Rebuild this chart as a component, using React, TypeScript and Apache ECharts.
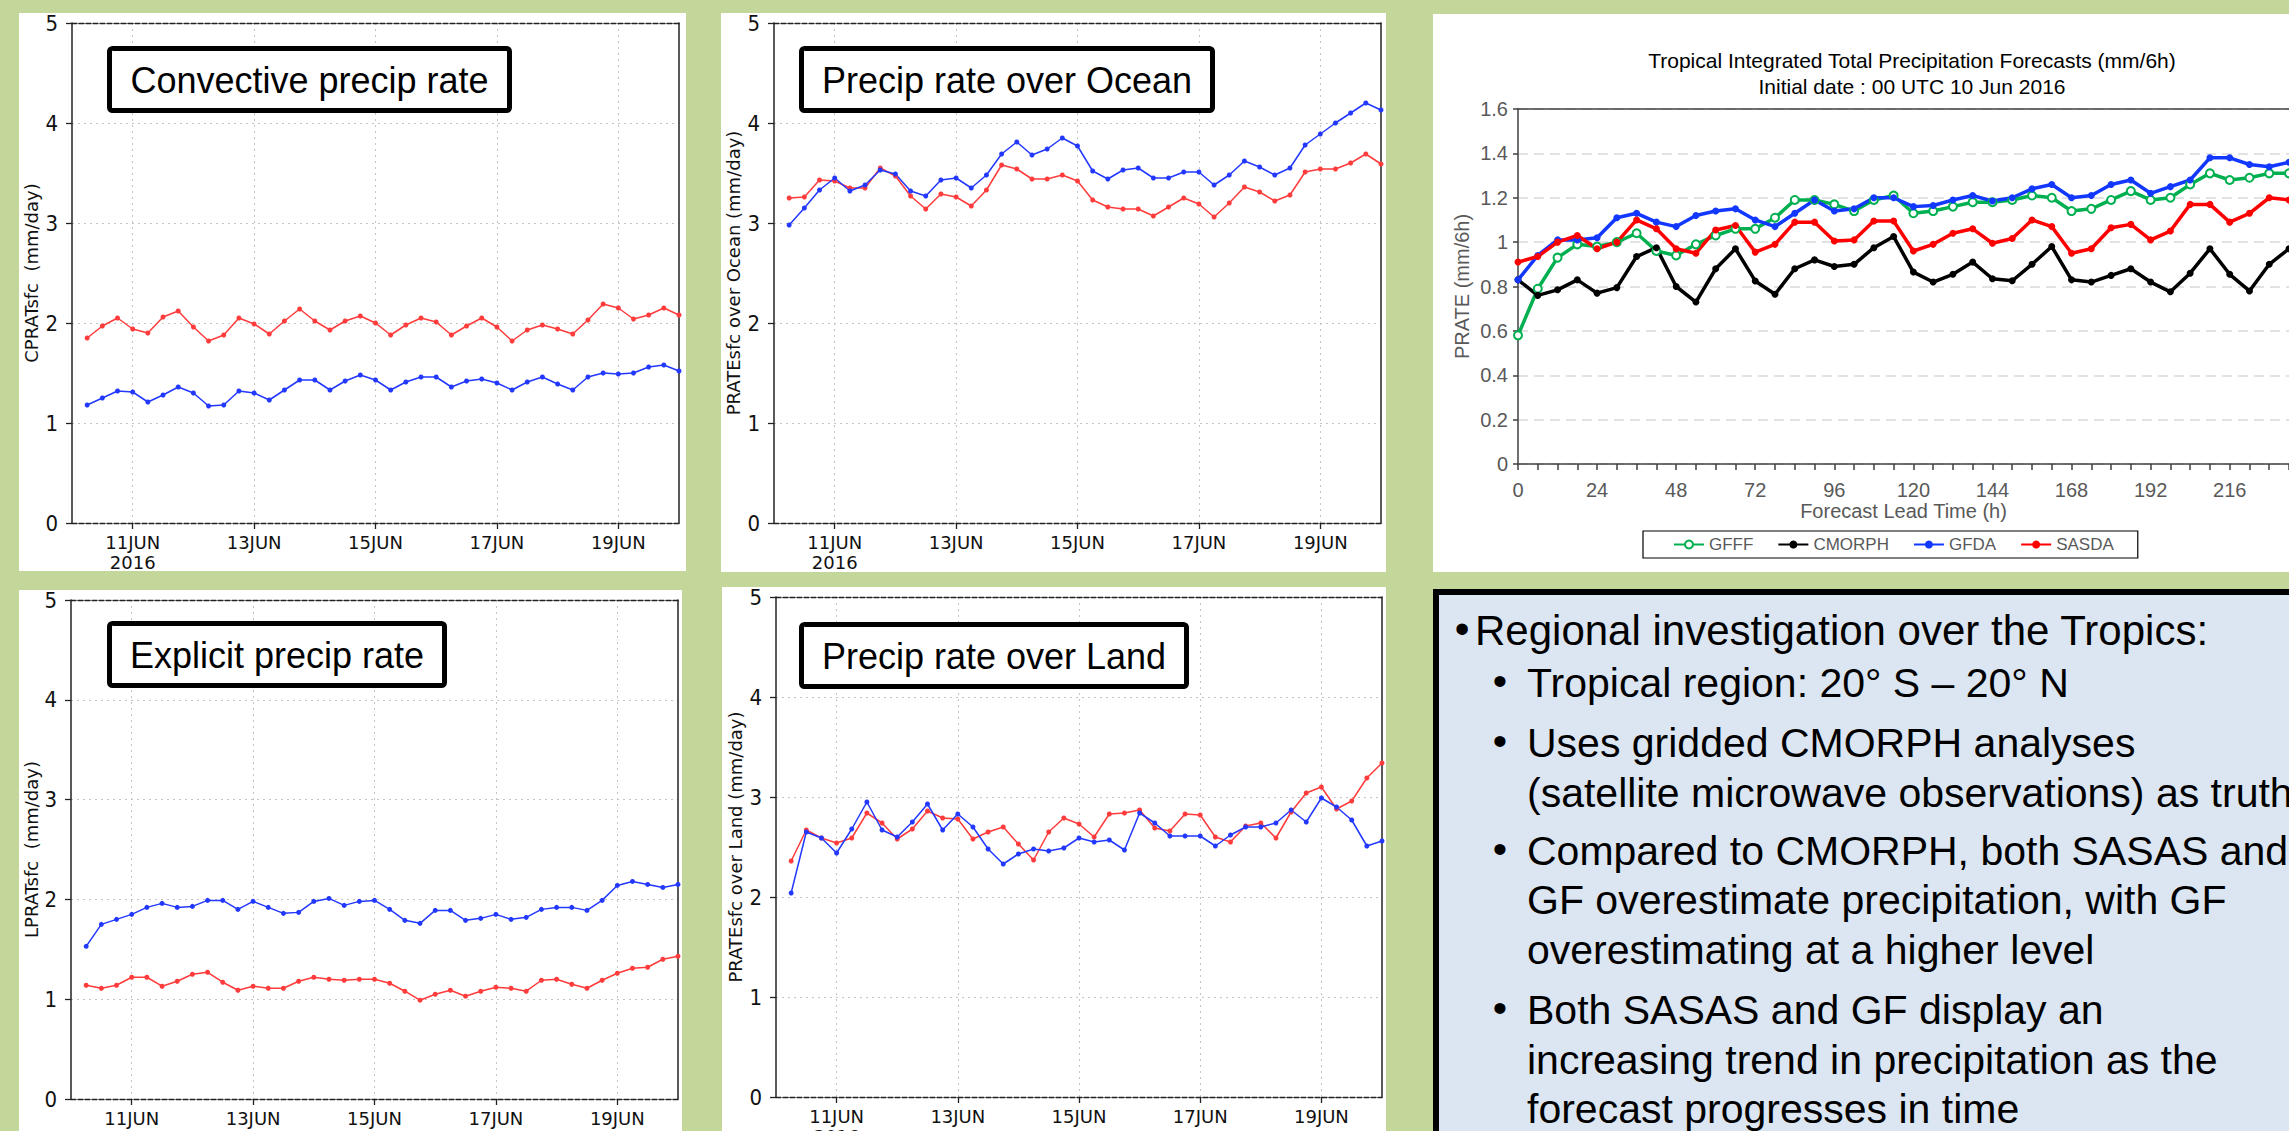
import React, { useEffect, useRef } from "react";
import * as echarts from "echarts";

const W = 2289;
const H = 1131;

// ---------- GrADS panels (6-hourly, 10JUN2016 00Z .. 20JUN2016 00Z) ----------
const HOUR_CATS = ["0","6","12","18","24","30","36","42","48","54","60","66","72","78","84","90","96","102","108","114","120","126","132","138","144","150","156","162","168","174","180","186","192","198","204","210","216","222","228","234","240"];
const VALID_HOURS = [6,12,18,24,30,36,42,48,54,60,66,72,78,84,90,96,102,108,114,120,126,132,138,144,150,156,162,168,174,180,186,192,198,204,210,216,222,228,234,240];
const DATE_TICK_HOURS = ["24", "72", "120", "168", "216"];
const DATE_TICK_LABELS = ["11JUN\n2016", "13JUN", "15JUN", "17JUN", "19JUN"];

const CONV_RED = [1.85,1.97,2.05,1.94,1.90,2.06,2.12,1.96,1.82,1.88,2.05,1.99,1.89,2.02,2.14,2.02,1.93,2.02,2.07,2.00,1.88,1.98,2.05,2.01,1.88,1.97,2.05,1.96,1.82,1.93,1.98,1.94,1.89,2.03,2.19,2.15,2.04,2.08,2.15,2.08];
const CONV_BLUE = [1.18,1.25,1.32,1.31,1.21,1.28,1.36,1.30,1.17,1.18,1.32,1.30,1.23,1.33,1.43,1.43,1.33,1.42,1.48,1.43,1.33,1.41,1.46,1.46,1.36,1.42,1.44,1.40,1.33,1.41,1.46,1.39,1.33,1.46,1.50,1.49,1.50,1.56,1.58,1.52];
const OCEAN_BLUE = [2.98,3.15,3.33,3.45,3.32,3.38,3.53,3.49,3.32,3.27,3.43,3.45,3.35,3.48,3.69,3.81,3.68,3.74,3.85,3.77,3.52,3.44,3.53,3.55,3.45,3.45,3.51,3.51,3.38,3.48,3.62,3.56,3.48,3.55,3.78,3.89,4.00,4.10,4.20,4.13];
const OCEAN_RED = [3.25,3.26,3.43,3.42,3.35,3.35,3.55,3.47,3.27,3.14,3.29,3.26,3.17,3.33,3.58,3.54,3.44,3.44,3.48,3.42,3.23,3.16,3.14,3.14,3.07,3.16,3.25,3.19,3.06,3.20,3.36,3.31,3.22,3.28,3.51,3.54,3.54,3.60,3.69,3.59];
const EXPL_BLUE = [1.53,1.75,1.80,1.85,1.92,1.96,1.92,1.93,1.99,1.99,1.90,1.98,1.92,1.86,1.87,1.98,2.01,1.94,1.98,1.99,1.90,1.79,1.76,1.89,1.89,1.79,1.81,1.85,1.80,1.82,1.90,1.92,1.92,1.89,1.99,2.14,2.18,2.15,2.12,2.15];
const EXPL_RED = [1.14,1.11,1.14,1.22,1.22,1.13,1.18,1.25,1.27,1.17,1.09,1.13,1.11,1.11,1.18,1.22,1.20,1.19,1.20,1.20,1.16,1.08,0.99,1.05,1.09,1.03,1.08,1.12,1.11,1.08,1.19,1.20,1.15,1.11,1.19,1.26,1.31,1.32,1.40,1.43];
const LAND_BLUE = [2.04,2.65,2.59,2.44,2.68,2.95,2.67,2.60,2.75,2.93,2.67,2.83,2.70,2.48,2.33,2.43,2.48,2.46,2.49,2.59,2.55,2.57,2.47,2.84,2.74,2.61,2.61,2.61,2.51,2.62,2.70,2.70,2.74,2.87,2.75,2.99,2.90,2.77,2.51,2.56];
const LAND_RED = [2.36,2.67,2.59,2.54,2.59,2.84,2.74,2.58,2.68,2.86,2.79,2.78,2.58,2.65,2.70,2.53,2.37,2.65,2.79,2.73,2.60,2.83,2.84,2.87,2.69,2.66,2.83,2.82,2.60,2.55,2.71,2.74,2.59,2.85,3.04,3.10,2.88,2.96,3.19,3.34];

// ---------- Tropical integrated total precipitation (mm/6h) ----------
const LEAD_HOURS = [0,6,12,18,24,30,36,42,48,54,60,66,72,78,84,90,96,102,108,114,120,126,132,138,144,150,156,162,168,174,180,186,192,198,204,210,216,222,228,234];
const GFFF = [0.58,0.79,0.93,0.99,0.98,1.00,1.04,0.96,0.94,0.99,1.03,1.06,1.06,1.11,1.19,1.19,1.17,1.14,1.19,1.21,1.13,1.14,1.16,1.18,1.18,1.19,1.21,1.20,1.14,1.15,1.19,1.23,1.19,1.20,1.26,1.31,1.28,1.29,1.31,1.31];
const CMORPH = [0.83,0.76,0.785,0.83,0.77,0.795,0.935,0.975,0.80,0.73,0.88,0.97,0.825,0.765,0.88,0.92,0.89,0.90,0.975,1.025,0.865,0.82,0.855,0.91,0.835,0.826,0.90,0.98,0.83,0.82,0.85,0.88,0.82,0.776,0.86,0.97,0.855,0.78,0.90,0.97];
const GFDA = [0.83,0.94,1.01,1.01,1.02,1.11,1.13,1.09,1.07,1.12,1.14,1.15,1.10,1.07,1.13,1.19,1.14,1.15,1.20,1.20,1.16,1.165,1.19,1.21,1.185,1.20,1.24,1.26,1.20,1.21,1.26,1.28,1.22,1.25,1.28,1.38,1.38,1.35,1.34,1.36];
const SASDA = [0.91,0.935,1.00,1.03,0.97,1.00,1.10,1.06,0.97,0.95,1.055,1.075,0.955,0.99,1.09,1.09,1.005,1.01,1.095,1.095,0.96,0.99,1.04,1.06,0.995,1.016,1.10,1.07,0.95,0.97,1.065,1.08,1.01,1.05,1.17,1.17,1.09,1.13,1.20,1.19];
const LEGEND_NAMES = ["GFFF", "CMORPH", "GFDA", "SASDA"];

const ARIAL = '"Liberation Sans", Arial, sans-serif';
const GRADS = '"DejaVu Sans", sans-serif';
const GRADS_NARROW = '"DejaVu Sans Condensed", "DejaVu Sans", sans-serif';
const RED = "#FF3B3B";
const BLUE = "#2238FF";

const isDateTick = (index: number) => DATE_TICK_HOURS.includes(HOUR_CATS[index]);
const dateLabel = (v: string) => {
  const k = DATE_TICK_HOURS.indexOf(String(v));
  return k >= 0 ? DATE_TICK_LABELS[k] : "";
};

function gradsXAxes(gridIndex: number) {
  const dashed = { color: "#222", width: 1.3, type: [5, 2] as any };
  return [
    {
      type: "category", gridIndex, data: HOUR_CATS, boundaryGap: false, position: "bottom",
      axisLine: { show: true, onZero: false, lineStyle: dashed },
      axisTick: { show: true, length: 6, interval: isDateTick, lineStyle: { color: "#222", width: 1.3 } },
      axisLabel: { show: true, interval: isDateTick, formatter: dateLabel, color: "#111", fontFamily: GRADS, fontSize: 18, lineHeight: 20, margin: 9 },
      splitLine: { show: true, interval: isDateTick, lineStyle: { color: "#c4c4c4", width: 1, type: [2, 4] } },
    },
    {
      type: "category", gridIndex, data: HOUR_CATS, boundaryGap: false, position: "top",
      axisLine: { show: true, onZero: false, lineStyle: dashed },
      axisTick: { show: false }, axisLabel: { show: false }, splitLine: { show: false },
    },
  ];
}

function gradsYAxes(gridIndex: number, name: string, nameGap: number) {
  return [
    {
      type: "value", gridIndex, min: 0, max: 5, interval: 1, position: "left",
      name, nameLocation: "middle", nameGap,
      nameTextStyle: { fontFamily: GRADS, fontSize: 18, color: "#111" },
      axisLine: { show: true, onZero: false, lineStyle: { color: "#222", width: 1.5 } },
      axisTick: { show: true, length: 6, lineStyle: { color: "#222", width: 1.3 } },
      axisLabel: { fontFamily: GRADS_NARROW, fontSize: 22, color: "#111", margin: 14 },
      splitLine: { show: true, lineStyle: { color: "#c4c4c4", width: 1, type: [2, 4] } },
    },
    {
      type: "value", gridIndex, min: 0, max: 5, interval: 1, position: "right",
      axisLine: { show: true, onZero: false, lineStyle: { color: "#222", width: 1.5 } },
      axisTick: { show: false }, axisLabel: { show: false }, splitLine: { show: false },
    },
  ];
}

function gradsSeries(name: string, axisIdx: number, vals: number[], color: string) {
  return {
    type: "line", name, xAxisIndex: axisIdx, yAxisIndex: axisIdx,
    data: VALID_HOURS.map((h, i) => [HOUR_CATS.indexOf(String(h)), vals[i]]),
    symbol: "circle", symbolSize: 5, showSymbol: true,
    lineStyle: { color, width: 1.5 }, itemStyle: { color },
    z: 3,
  };
}

function tropSeries(name: string, vals: number[], color: string, hollow: boolean) {
  return {
    type: "line", name, xAxisIndex: 8, yAxisIndex: 8,
    data: LEAD_HOURS.map((h, i) => [h, vals[i]]),
    symbol: hollow ? "emptyCircle" : "circle", symbolSize: hollow ? 8 : 7, showSymbol: true,
    lineStyle: { color, width: 3.5 },
    itemStyle: hollow ? { color, borderColor: color, borderWidth: 1.5 } : { color },
    z: 3,
  };
}

function whiteRect(x: number, y: number, w: number, h: number) {
  return { type: "rect", z: -10, shape: { x, y, width: w, height: h }, style: { fill: "#fff" } };
}

function titleBox(x0: number, y0: number, x1: number, y1: number, text: string) {
  return [
    { type: "rect", z: 100, shape: { x: x0 + 2.5, y: y0 + 2.5, width: x1 - x0 - 5, height: y1 - y0 - 5, r: 3 }, style: { fill: "#fff", stroke: "#000", lineWidth: 5 } },
    { type: "text", z: 101, x: (x0 + x1) / 2, y: (y0 + y1) / 2 + 1, style: { text, font: `36px ${ARIAL}`, fill: "#000", textAlign: "center", textVerticalAlign: "middle", align: "center", verticalAlign: "middle" } },
  ];
}

function txt(x: number, y: number, text: string, size: number, align = "left") {
  return { type: "text", z: 101, x, y, style: { text, font: `${size}px ${ARIAL}`, fill: "#000", textAlign: align, textVerticalAlign: "middle", align, verticalAlign: "middle" } };
}

const BULLETS = [
  { main: true, bullet: true, y: 630, text: "Regional investigation over the Tropics:" },
  { main: false, bullet: true, y: 683, text: "Tropical region: 20° S – 20° N" },
  { main: false, bullet: true, y: 743, text: "Uses gridded CMORPH analyses" },
  { main: false, bullet: false, y: 793, text: "(satellite microwave observations) as truth" },
  { main: false, bullet: true, y: 851, text: "Compared to CMORPH, both SASAS and" },
  { main: false, bullet: false, y: 900, text: "GF overestimate precipitation, with GF" },
  { main: false, bullet: false, y: 950, text: "overestimating at a higher level" },
  { main: false, bullet: true, y: 1010, text: "Both SASAS and GF display an" },
  { main: false, bullet: false, y: 1060, text: "increasing trend in precipitation as the" },
  { main: false, bullet: false, y: 1109, text: "forecast progresses in time" },
];

function buildOption(): any {
  const graphics: any[] = [
    whiteRect(19, 13, 667, 558),
    whiteRect(721, 13, 665, 559),
    whiteRect(19, 590, 663, 541),
    whiteRect(722, 587, 664, 544),
    whiteRect(1433, 14, 856, 558),
    { type: "rect", z: 50, shape: { x: 1436, y: 592, width: 900, height: 600 }, style: { fill: "#DCE6F2", stroke: "#000", lineWidth: 6 } },
    ...titleBox(107, 46, 512, 113, "Convective precip rate"),
    ...titleBox(799, 46, 1215, 113, "Precip rate over Ocean"),
    ...titleBox(107, 621, 447, 688, "Explicit precip rate"),
    ...titleBox(799, 622, 1189, 689, "Precip rate over Land"),
    { type: "text", z: 101, x: 1912, y: 60, style: { text: "Tropical Integrated Total Precipitation Forecasts (mm/6h)", font: `21px ${ARIAL}`, fill: "#000", textAlign: "center", textVerticalAlign: "middle", align: "center", verticalAlign: "middle" } },
    { type: "text", z: 101, x: 1912, y: 86, style: { text: "Initial date : 00 UTC 10 Jun 2016", font: `21px ${ARIAL}`, fill: "#000", textAlign: "center", textVerticalAlign: "middle", align: "center", verticalAlign: "middle" } },
  ];
  BULLETS.forEach((b) => {
    if (b.main) {
      graphics.push(txt(1462, b.y - 2, "•", 42, "center"));
      graphics.push(txt(1475, b.y, b.text, 42));
    } else {
      if (b.bullet) graphics.push(txt(1500, b.y - 2, "•", 41, "center"));
      graphics.push(txt(1527, b.y, b.text, 41));
    }
  });

  const xAxes = [
    ...gradsXAxes(0), ...gradsXAxes(1), ...gradsXAxes(2), ...gradsXAxes(3),
    {
      type: "value", gridIndex: 4, min: 0, max: 234, interval: 6, position: "bottom",
      name: "Forecast Lead Time (h)", nameLocation: "middle", nameGap: 36,
      nameTextStyle: { fontFamily: ARIAL, fontSize: 20, color: "#595959" },
      axisLine: { show: true, onZero: false, lineStyle: { color: "#404040", width: 1.5 } },
      axisTick: { show: true, length: 6, lineStyle: { color: "#404040", width: 1.5 } },
      axisLabel: { formatter: (v: number) => (v % 24 === 0 ? String(v) : ""), color: "#595959", fontSize: 20, fontFamily: ARIAL, margin: 16 },
      splitLine: { show: false },
    },
    {
      type: "value", gridIndex: 4, min: 0, max: 234, interval: 6, position: "top",
      axisLine: { show: true, onZero: false, lineStyle: { color: "#404040", width: 1.5 } },
      axisTick: { show: false }, axisLabel: { show: false }, splitLine: { show: false },
    },
  ];
  const yAxes = [
    ...gradsYAxes(0, "CPRATsfc  (mm/day)", 32),
    ...gradsYAxes(1, "PRATEsfc over Ocean (mm/day)", 32),
    ...gradsYAxes(2, "LPRATsfc  (mm/day)", 31),
    ...gradsYAxes(3, "PRATEsfc over Land (mm/day)", 32),
    {
      type: "value", gridIndex: 4, min: 0, max: 1.6, interval: 0.2, position: "left",
      name: "PRATE (mm/6h)", nameLocation: "middle", nameGap: 46,
      nameTextStyle: { fontFamily: ARIAL, fontSize: 20, color: "#595959" },
      axisLine: { show: true, onZero: false, lineStyle: { color: "#404040", width: 1.5 } },
      axisTick: { show: true, length: 5, lineStyle: { color: "#404040", width: 1.5 } },
      axisLabel: { formatter: (v: number) => String(+v.toFixed(1)), color: "#595959", fontSize: 20, fontFamily: ARIAL, margin: 10 },
      splitLine: { show: true, lineStyle: { color: "#D9D9D9", width: 1.5, type: [10, 6] } },
    },
  ];

  const g = (left: number, top: number, width: number, height: number) => ({
    left, top, width, height, containLabel: false, outerBoundsMode: "none",
  });

  return {
    animation: false,
    backgroundColor: "#C4D79B",
    grid: [
      g(72, 23, 607, 500),
      g(774, 23, 607, 500),
      g(71, 600, 607, 499),
      g(776, 597, 606, 500),
      g(1518, 109, 771, 355),
    ],
    xAxis: xAxes,
    yAxis: yAxes,
    legend: {
      data: LEGEND_NAMES, left: 1643, top: 531, orient: "horizontal",
      padding: [5, 24, 5, 30], itemGap: 24, itemWidth: 30, itemHeight: 10,
      borderColor: "#000", borderWidth: 1.2, backgroundColor: "#fff",
      textStyle: { color: "#595959", fontSize: 17, fontFamily: ARIAL },
    },
    graphic: { elements: graphics },
    series: [
      gradsSeries("Conv SASAS", 0, CONV_RED, RED),
      gradsSeries("Conv GF", 0, CONV_BLUE, BLUE),
      gradsSeries("Ocean SASAS", 2, OCEAN_RED, RED),
      gradsSeries("Ocean GF", 2, OCEAN_BLUE, BLUE),
      gradsSeries("Explicit SASAS", 4, EXPL_RED, RED),
      gradsSeries("Explicit GF", 4, EXPL_BLUE, BLUE),
      gradsSeries("Land SASAS", 6, LAND_RED, RED),
      gradsSeries("Land GF", 6, LAND_BLUE, BLUE),
      tropSeries("GFFF", GFFF, "#00B050", true),
      tropSeries("CMORPH", CMORPH, "#000000", false),
      tropSeries("GFDA", GFDA, "#1238FF", false),
      tropSeries("SASDA", SASDA, "#FF0000", false),
    ],
  };
}

export default function App() {
  const ref = useRef<HTMLDivElement>(null);
  useEffect(() => {
    if (!ref.current) return;
    const chart = echarts.init(ref.current, null, { renderer: "svg", width: W, height: H });
    chart.setOption(buildOption());
    return () => chart.dispose();
  }, []);
  return (
    <div
      ref={ref}
      style={{ position: "fixed", left: 0, top: 0, width: W, height: H, overflow: "hidden" }}
    />
  );
}
